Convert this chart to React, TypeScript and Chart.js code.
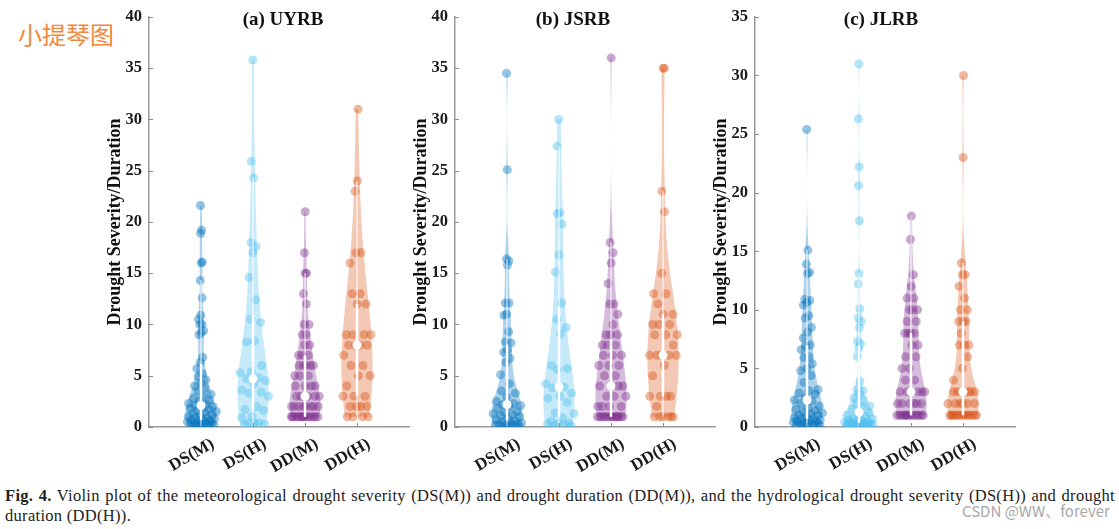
import React, { useEffect, useRef } from 'react';
import { Chart, registerables } from 'chart.js';

Chart.register(...registerables);

// ---------------- data ----------------
const categories = ['DS(M)', 'DS(H)', 'DD(M)', 'DD(H)'];
const panelTitles = ['(a) UYRB', '(b) JSRB', '(c) JLRB'];
const yMaxes = [40, 40, 35];
const yTickStep = 5;
const yAxisTitle = 'Drought Severity/Duration';
const colors = ['#0072BD', '#4DBEEE', '#7E2F8E', '#D95319'];

// (a) UYRB
const uyrbDSM = [21.6, 19.2, 18.9, 16.1, 16.0, 14.3, 12.6, 10.9, 10.5, 10.0, 10.0, 9.4, 9.2, 9.0, 6.8, 6.3, 5.7, 5.2, 4.9, 4.6, 4.3, 4.0, 3.8, 3.5, 3.2, 3.0, 2.8, 2.6, 2.5, 2.3, 2.2, 2.1, 2.0, 1.9, 1.8, 1.7, 1.6, 1.5, 1.4, 1.3, 1.2, 1.1, 1.0, 0.9, 0.9, 0.8, 0.7, 0.7, 0.6, 0.6, 0.5, 0.5, 0.4, 0.4, 0.3, 0.3, 0.3, 0.2, 0.2, 0.2, 0.1, 0.1, 0.1];
const uyrbDSH = [35.8, 25.9, 24.3, 18.0, 17.6, 17.0, 14.6, 12.4, 10.5, 10.2, 8.4, 8.3, 6.0, 5.4, 5.3, 4.8, 4.7, 4.5, 4.2, 3.6, 3.4, 3.3, 3.0, 2.0, 1.7, 1.6, 1.0, 0.9, 0.4, 0.4, 0.3, 0.3, 0.2];
const uyrbDDM = [21, 17, 15, 15, 13, 12, 10, 10, 9, 9, 8, 8, 7, 7, 7, 6, 6, 6, 6, 6, 5, 5, 5, 4, 4, 4, 4, 3, 3, 3, 3, 3, 2, 2, 2, 2, 2, 2, 2, 2, 1, 1, 1, 1, 1, 1, 1, 1, 1, 1, 1, 1, 1, 1, 1];
const uyrbDDH = [31, 24, 23, 17, 17, 16, 13, 13, 12, 12, 9, 9, 9, 9, 8, 8, 8, 8, 7, 6, 6, 5, 5, 4, 3, 3, 3, 2, 2, 2, 2, 1, 1, 1, 1];

// (b) JSRB
const jsrbDSM = [34.5, 25.1, 16.4, 16.2, 15.8, 12.1, 12.1, 11.0, 10.9, 9.3, 8.3, 8.2, 7.5, 7.3, 6.7, 6.3, 5.1, 4.2, 3.5, 3.3, 2.9, 2.5, 2.3, 2.2, 2.1, 2.0, 1.8, 1.5, 1.4, 1.3, 1.2, 1.1, 1.0, 0.8, 0.7, 0.6, 0.5, 0.4, 0.4, 0.3, 0.3, 0.2, 0.2, 0.2, 0.1, 0.1, 0.1];
const jsrbDSH = [30.0, 27.4, 20.9, 20.8, 19.8, 16.8, 15.1, 12.1, 10.5, 9.7, 9.1, 6.0, 5.7, 5.6, 4.2, 3.9, 3.8, 3.3, 3.0, 2.8, 2.4, 1.4, 1.3, 0.9, 0.6, 0.4, 0.3, 0.3, 0.2, 0.1, 0.1];
const jsrbDDM = [36, 18, 17, 16, 14, 12, 12, 11, 10, 9, 9, 9, 8, 8, 8, 7, 7, 7, 6, 6, 6, 5, 5, 4, 4, 4, 4, 3, 3, 3, 2, 2, 2, 2, 1, 1, 1, 1, 1, 1, 1, 1, 1, 1, 1, 1, 1, 1];
const jsrbDDH = [35, 35, 23, 21, 15, 13, 13, 12, 11, 11, 10, 10, 10, 9, 9, 9, 8, 7, 7, 7, 7, 7, 6, 5, 3, 3, 3, 3, 2, 1, 1, 1, 1, 1, 1];

// (c) JLRB
const jlrbDSM = [25.4, 15.1, 13.9, 13.2, 13.1, 10.9, 10.8, 10.6, 10.4, 9.5, 9.3, 8.5, 8.1, 7.6, 7.0, 6.9, 6.6, 6.0, 5.9, 5.4, 5.0, 4.8, 4.4, 3.8, 3.2, 3.1, 2.9, 2.8, 2.5, 2.3, 2.2, 2.0, 1.8, 1.6, 1.5, 1.4, 1.3, 1.2, 1.1, 1.0, 1.0, 0.9, 0.8, 0.7, 0.7, 0.6, 0.6, 0.5, 0.5, 0.4, 0.4, 0.3, 0.3, 0.3, 0.2, 0.2, 0.2, 0.1, 0.1];
const jlrbDSH = [31.0, 26.3, 22.2, 20.6, 17.6, 13.1, 12.2, 10.1, 9.3, 9.0, 8.5, 7.3, 7.1, 6.7, 6.0, 3.9, 3.2, 3.1, 2.8, 2.5, 2.3, 2.0, 1.8, 1.7, 1.5, 1.25, 1.1, 1.0, 0.9, 0.8, 0.7, 0.6, 0.6, 0.5, 0.5, 0.4, 0.4, 0.4, 0.3, 0.3, 0.3, 0.3, 0.2, 0.2, 0.2, 0.2, 0.1, 0.1, 0.1, 0.1, 0.05];
const jlrbDDM = [18, 16, 13, 12, 11, 11, 10, 10, 10, 9, 9, 8, 8, 8, 8, 7, 7, 6, 6, 5, 5, 4, 4, 3, 3, 3, 3, 3, 3, 2, 2, 2, 2, 2, 2, 1, 1, 1, 1, 1, 1, 1, 1, 1, 1, 1, 1, 1, 1];
const jlrbDDH = [30, 23, 14, 13, 13, 12, 11, 10, 10, 9, 9, 9, 8, 7, 7, 7, 6, 5, 4, 3, 3, 3, 3, 3, 3, 2, 2, 2, 2, 2, 2, 1, 1, 1, 1, 1, 1, 1, 1, 1, 1, 1, 1, 1, 1];

const panelSeries = [
  [uyrbDSM, uyrbDSH, uyrbDDM, uyrbDDH],
  [jsrbDSM, jsrbDSH, jsrbDDM, jsrbDDH],
  [jlrbDSM, jlrbDSH, jlrbDDM, jlrbDDH],
];

// ---------------- layout / style ----------------
const AXIS_X = [149, 455, 755];
const Y_AXIS_W = 60;
const CANVAS_W = 325;
const CANVAS_H = 475;
const TITLE_DX = [134, 118, 126];
const SERIF = '"Liberation Serif", "Times New Roman", serif';
const VIOLIN_HALF_WIDTH = 0.3;
const BANDWIDTH_SCALE = 1.4;

function rgba(hex: string, a: number) {
  const n = parseInt(hex.slice(1), 16);
  return `rgba(${(n >> 16) & 255},${(n >> 8) & 255},${n & 255},${a})`;
}

function quantile(sorted: number[], p: number) {
  const n = sorted.length;
  const pos = n * p + 0.5;
  if (pos <= 1) return sorted[0];
  if (pos >= n) return sorted[n - 1];
  const lo = Math.floor(pos);
  return sorted[lo - 1] + (pos - lo) * (sorted[lo] - sorted[lo - 1]);
}

function computeStats(data: number[]) {
  const sorted = [...data].sort((a, b) => a - b);
  const n = sorted.length;
  const min = sorted[0];
  const max = sorted[n - 1];
  const med = quantile(sorted, 0.5);
  const dev = sorted.map((v) => Math.abs(v - med)).sort((a, b) => a - b);
  let sig = quantile(dev, 0.5) / 0.6745;
  if (sig <= 0) sig = max - min;
  const bw = BANDWIDTH_SCALE * sig * Math.pow(4 / (3 * n), 0.2);
  const m = 120;
  const ys: number[] = [];
  const ds: number[] = [];
  for (let i = 0; i < m; i++) {
    const y = min + ((max - min) * i) / (m - 1);
    let s = 0;
    for (const v of data) s += Math.exp(-0.5 * ((y - v) / bw) ** 2);
    ys.push(y);
    ds.push(s);
  }
  const dMax = Math.max(...ds);
  const ws = ds.map((d) => (d / dMax) * VIOLIN_HALF_WIDTH);
  const widthAt = (v: number) => {
    if (v <= min) return ws[0];
    if (v >= max) return ws[m - 1];
    const t = ((v - min) / (max - min)) * (m - 1);
    const i = Math.floor(t);
    return ws[i] + (t - i) * (ws[Math.min(i + 1, m - 1)] - ws[i]);
  };
  const q1 = quantile(sorted, 0.25);
  const q3 = quantile(sorted, 0.75);
  const iqr = q3 - q1;
  let lowW = q1 - 1.5 * iqr;
  lowW = Math.min(...sorted.filter((v) => v >= lowW));
  let highW = q3 + 1.5 * iqr;
  highW = Math.max(...sorted.filter((v) => v <= highW));
  return { ys, ws, widthAt, med, q1, q3, lowW, highW };
}

function jitter(i: number, k: number) {
  const f = (i * 0.6180339887 + k * 0.2718 + 0.13) % 1;
  return f * 2 - 1;
}

function makeViolinPlugin(panel: number, stats: any[]) {
  return {
    id: 'violins' + panel,
    beforeDatasetsDraw(chart: any) {
      const { ctx } = chart;
      const xs = chart.scales.x;
      const ysc = chart.scales.y;
      stats.forEach((st, k) => {
        const pos = k + 1;
        ctx.save();
        ctx.beginPath();
        st.ys.forEach((y: number, i: number) => {
          const px = xs.getPixelForValue(pos + st.ws[i]);
          const py = ysc.getPixelForValue(y);
          if (i === 0) ctx.moveTo(px, py);
          else ctx.lineTo(px, py);
        });
        for (let i = st.ys.length - 1; i >= 0; i--) {
          ctx.lineTo(xs.getPixelForValue(pos - st.ws[i]), ysc.getPixelForValue(st.ys[i]));
        }
        ctx.closePath();
        ctx.fillStyle = rgba(colors[k], 0.32);
        ctx.fill();
        ctx.restore();
      });
    },
    afterDatasetsDraw(chart: any) {
      const { ctx, chartArea } = chart;
      const xs = chart.scales.x;
      const ysc = chart.scales.y;
      stats.forEach((st, k) => {
        const px = xs.getPixelForValue(k + 1);
        ctx.save();
        ctx.strokeStyle = '#ffffff';
        ctx.lineWidth = 1;
        ctx.beginPath();
        ctx.moveTo(px, ysc.getPixelForValue(st.lowW));
        ctx.lineTo(px, ysc.getPixelForValue(st.highW));
        ctx.stroke();
        ctx.lineWidth = 2.5;
        ctx.beginPath();
        ctx.moveTo(px, ysc.getPixelForValue(st.q1));
        ctx.lineTo(px, ysc.getPixelForValue(st.q3));
        ctx.stroke();
        ctx.fillStyle = '#ffffff';
        ctx.beginPath();
        ctx.arc(px, ysc.getPixelForValue(st.med), 4.5, 0, Math.PI * 2);
        ctx.fill();
        ctx.restore();
      });
      // inward tick marks
      ctx.save();
      ctx.strokeStyle = '#8c8c8c';
      ctx.lineWidth = 1;
      ysc.ticks.forEach((t: any) => {
        const py = Math.round(ysc.getPixelForValue(t.value)) + 0.5;
        ctx.beginPath();
        ctx.moveTo(chartArea.left, py);
        ctx.lineTo(chartArea.left + 4, py);
        ctx.stroke();
      });
      xs.ticks.forEach((t: any) => {
        const px = Math.round(xs.getPixelForValue(t.value)) + 0.5;
        ctx.beginPath();
        ctx.moveTo(px, chartArea.bottom);
        ctx.lineTo(px, chartArea.bottom - 4);
        ctx.stroke();
      });
      ctx.restore();
      // panel title
      ctx.save();
      ctx.fillStyle = '#111111';
      ctx.font = `bold 19px ${SERIF}`;
      ctx.textAlign = 'center';
      ctx.textBaseline = 'middle';
      ctx.fillText(panelTitles[panel], chartArea.left + TITLE_DX[panel], 20);
      ctx.restore();
    },
  };
}

function Panel({ panel }: { panel: number }) {
  const ref = useRef<HTMLCanvasElement>(null);
  useEffect(() => {
    if (!ref.current) return;
    const series = panelSeries[panel];
    const stats = series.map((s) => computeStats(s));
    const datasets = series.map((vals, k) => ({
      label: categories[k],
      data: vals.map((v, i) => ({ x: k + 1 + jitter(i, k) * stats[k].widthAt(v), y: v })),
      backgroundColor: rgba(colors[k], 0.42),
      borderWidth: 0,
      pointRadius: 4.5,
      pointHoverRadius: 4.5,
    }));
    const chart = new Chart(ref.current, {
      type: 'scatter',
      data: { datasets },
      options: {
        animation: false,
        responsive: false,
        events: [],
        layout: { padding: { top: 16, right: 5, left: 0, bottom: 0 }, autoPadding: false },
        plugins: { legend: { display: false }, tooltip: { enabled: false }, title: { display: false } },
        scales: {
          x: {
            type: 'linear',
            min: 0,
            max: 5,
            afterBuildTicks: (s: any) => {
              s.ticks = categories.map((_, i) => ({ value: i + 1 }));
            },
            afterFit: (s: any) => {
              s.height = 48;
            },
            ticks: {
              callback: (v: any) => categories[Math.round(v) - 1] ?? '',
              minRotation: 30,
              maxRotation: 30,
              padding: 7,
              labelOffset: 12,
              color: '#1a1a1a',
              font: { family: SERIF, size: 17, weight: 'bold' },
            },
            grid: { display: false, drawTicks: false },
            border: { display: true, color: '#9a9a9a', width: 1.5 },
          },
          y: {
            type: 'linear',
            min: 0,
            max: yMaxes[panel],
            afterFit: (s: any) => {
              s.width = Y_AXIS_W;
            },
            ticks: {
              stepSize: yTickStep,
              padding: 7,
              color: '#1a1a1a',
              font: { family: SERIF, size: 16.5, weight: 'bold' },
            },
            grid: { display: false, drawTicks: false },
            border: { display: true, color: '#9a9a9a', width: 1.5 },
            title: {
              display: true,
              text: yAxisTitle,
              color: '#111111',
              padding: { top: 16, bottom: 0 },
              font: { family: SERIF, size: 18, weight: 'bold' },
            },
          },
        },
      },
      plugins: [makeViolinPlugin(panel, stats)],
    } as any);
    return () => chart.destroy();
  }, [panel]);
  return (
    <canvas
      ref={ref}
      width={CANVAS_W}
      height={CANVAS_H}
      style={{ position: 'absolute', left: AXIS_X[panel] - Y_AXIS_W, top: 0, width: CANVAS_W, height: CANVAS_H }}
    />
  );
}

export default function App() {
  return (
    <div style={{ position: 'absolute', left: 0, top: 0, width: 1119, height: 529, background: '#fff', overflow: 'hidden' }}>
      <div
        style={{
          position: 'absolute',
          left: 18,
          top: 18,
          fontFamily: '"Noto Sans CJK SC", sans-serif',
          fontSize: 24,
          lineHeight: '32px',
          color: '#f3873a',
        }}
      >
        小提琴图
      </div>
      {[0, 1, 2].map((p) => (
        <Panel key={p} panel={p} />
      ))}
      <div
        style={{
          position: 'absolute',
          left: 5,
          top: 486,
          width: 1110,
          fontFamily: SERIF,
          fontSize: 16.5,
          letterSpacing: '0.3px',
          lineHeight: '20px',
          color: '#222',
        }}
      >
        <div style={{ textAlign: 'justify', textAlignLast: 'justify' as any, whiteSpace: 'nowrap' }}>
          <b>Fig. 4.</b> Violin plot of the meteorological drought severity (DS(M)) and drought duration (DD(M)), and the hydrological drought severity (DS(H)) and drought
        </div>
        <div>duration (DD(H)).</div>
      </div>
      <div
        style={{
          position: 'absolute',
          left: 962,
          top: 501,
          fontFamily: '"Noto Sans CJK SC", sans-serif',
          fontSize: 15,
          lineHeight: '20px',
          color: '#a8a8a8',
        }}
      >
        CSDN @WW、forever
      </div>
    </div>
  );
}
